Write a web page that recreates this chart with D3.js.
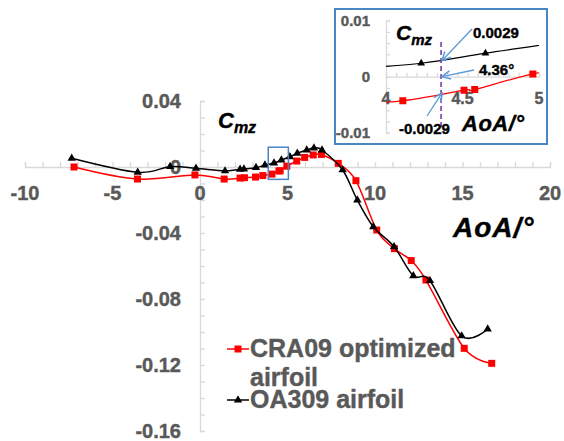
<!DOCTYPE html>
<html>
<head>
<meta charset="utf-8">
<script src="https://cdn.jsdelivr.net/npm/d3@7"></script>
<style>
  body { margin: 0; background: #fff; }
</style>
</head>
<body>
<script>
// CRA09 optimized airfoil (red squares)
var redAoA = [-7.2, -3.57, -0.29, 1.38, 2.29, 2.54, 3.17, 3.59, 4.11, 4.51, 4.58, 4.96,
    5.53, 5.98, 6.47, 6.94, 7.9, 8.91, 10.1, 11.11, 12.07, 12.91, 15.1, 16.67];
var redCmz = [0.0, -0.0073, -0.0048, -0.0073, -0.0067, -0.0065, -0.0061, -0.0052, -0.0043, -0.0024, -0.0023, 0.0005,
    0.0036, 0.0058, 0.0073, 0.0076, 0.0022, -0.0083, -0.0382, -0.0495, -0.0567, -0.0685, -0.1099, -0.119];

// OA309 airfoil (black triangles)
var blackAoA = [-7.33, -3.56, -1.71, -0.23, 1.43, 2.29, 2.51, 3.2, 3.71, 4.23, 4.65, 5.14,
    5.56, 6.1, 6.51, 6.97, 8.15, 8.99, 9.9, 11.09, 12.19, 13.14, 14.95, 16.44];
var blackCmz = [0.0053, -0.0032, 0.0002, -0.0008, -0.0024, -0.0014, -0.0012, -0.0004, 0.0012, 0.0024, 0.0042, 0.0062,
    0.0083, 0.0103, 0.0115, 0.0103, -0.0018, -0.02, -0.0362, -0.0483, -0.0659, -0.0689, -0.1024, -0.0982];

var xTicks = [-10, -5, 0, 5, 10, 15, 20];
var yTicks = [0.04, 0, -0.04, -0.08, -0.12, -0.16];
var insetXTicks = [4, 4.5, 5];
var insetYTicks = [0.01, 0, -0.01];
var seriesNames = ["CRA09 optimized", "airfoil", "OA309 airfoil"];
var markAoA = 4.36, markCmz = 0.0029;

var gray = "#595959";

var svg = d3.select("body").append("svg")
    .attr("width", 564)
    .attr("height", 441)
    .attr("font-family", "'Liberation Sans', Arial, sans-serif")
    .attr("font-weight", "700");

var defs = svg.append("defs");
defs.append("marker")
    .attr("id", "arrow")
    .attr("viewBox", "0 0 10 10")
    .attr("refX", 9).attr("refY", 5)
    .attr("markerWidth", 8).attr("markerHeight", 8)
    .attr("orient", "auto")
  .append("path")
    .attr("d", "M1,1 L9,5 L1,9")
    .attr("fill", "none")
    .attr("stroke", "#5B9BD5")
    .attr("stroke-width", 1.5);

// main scales
var x = d3.scaleLinear().domain([-10, 20]).range([25, 550]);
var y = d3.scaleLinear().domain([-0.16, 0.04]).range([431, 101]);

var red = redAoA.map(function(d, i){ return [d, redCmz[i]]; });
var black = blackAoA.map(function(d, i){ return [d, blackCmz[i]]; });

// x axis ticks (pointing up) and y axis ticks (pointing right)
svg.append("g")
    .attr("transform", "translate(0," + y(0) + ")")
    .call(d3.axisTop(x).tickValues(d3.range(-10, 21, 1)).tickSize(5).tickFormat(""))
    .call(function(g){ g.selectAll("line,path").attr("stroke", "#D9D9D9").attr("stroke-width", 1.3); });

svg.append("g")
    .attr("transform", "translate(" + x(0) + ",0)")
    .call(d3.axisRight(y).tickValues(d3.range(-16, 5, 1).map(function(d){ return d / 100; })).tickSize(5).tickFormat(""))
    .call(function(g){ g.selectAll("line,path").attr("stroke", "#D9D9D9").attr("stroke-width", 1.3); });

// bold labels, with a thin outline of the same colour for weight
function boldText(sel, color){
    return sel.attr("fill", color)
        .attr("font-weight", "700")
        .attr("stroke", color)
        .attr("stroke-width", 0.4);
}

// tick labels
svg.selectAll(".xlab").data(xTicks).enter().append("text")
    .attr("class", "xlab")
    .attr("x", function(d){ return x(d); })
    .attr("y", y(0) + 33)
    .attr("text-anchor", "middle")
    .attr("font-size", "20px")
    .call(boldText, gray)
    .text(function(d){ return d; });

svg.selectAll(".ylab").data(yTicks).enter().append("text")
    .attr("class", "ylab")
    .attr("x", x(0) - 19)
    .attr("y", function(d){ return y(d) + 7; })
    .attr("text-anchor", "end")
    .attr("font-size", "20px")
    .call(boldText, gray)
    .text(function(d){ return d === 0 ? "0" : d.toFixed(2); });

// axis titles
function cmzLabel(g, px, py, big, small){
    var t = g.append("text")
        .attr("x", px).attr("y", py)
        .attr("font-style", "italic")
        .call(boldText, "#000");
    t.append("tspan").attr("font-size", big + "px").text("C");
    t.append("tspan").attr("font-size", small + "px").attr("dy", 5).text("mz");
}
cmzLabel(svg, 218, 128, 22, 16);

svg.append("text")
    .attr("x", 453).attr("y", 237)
    .attr("font-size", "28px")
    .attr("font-style", "italic")
    .attr("letter-spacing", "1px")
    .call(boldText, "#000")
    .text("AoA/°");

var sq = d3.symbol().type(d3.symbolSquare).size(49);
var tri = d3.symbol().type(d3.symbolTriangle).size(30);

function drawSeries(g, data, sx, sy, color, sym, lw){
    var ln = d3.line()
        .x(function(d){ return sx(d[0]); })
        .y(function(d){ return sy(d[1]); })
        .curve(d3.curveCardinal.tension(0));
    g.append("path")
        .datum(data)
        .attr("d", ln)
        .attr("fill", "none")
        .attr("stroke", color)
        .attr("stroke-width", lw);
    g.selectAll(null).data(data).enter().append("path")
        .attr("d", sym)
        .attr("transform", function(d){ return "translate(" + sx(d[0]) + "," + sy(d[1]) + ")"; })
        .attr("fill", color);
}

drawSeries(svg, red, x, y, "#FF0000", sq, 1.5);
drawSeries(svg, black, x, y, "#000", tri, 1.5);

// zoom box on main chart
svg.append("rect")
    .attr("x", x(3.9))
    .attr("y", y(0.012))
    .attr("width", x(5.05) - x(3.9))
    .attr("height", y(-0.0075) - y(0.012))
    .attr("fill", "none")
    .attr("stroke", "#4A86C5")
    .attr("stroke-width", 1.5);

// legend
var leg = svg.append("g");
leg.append("line").attr("x1", 227).attr("x2", 249).attr("y1", 349).attr("y2", 349)
    .attr("stroke", "#FF0000").attr("stroke-width", 1.5);
leg.append("path").attr("d", sq).attr("transform", "translate(238,349)").attr("fill", "#FF0000");
leg.append("line").attr("x1", 227).attr("x2", 249).attr("y1", 400).attr("y2", 400)
    .attr("stroke", "#000").attr("stroke-width", 1.5);
leg.append("path").attr("d", tri).attr("transform", "translate(238,400)").attr("fill", "#000");
leg.selectAll("text").data(seriesNames).enter().append("text")
    .attr("x", 250)
    .attr("y", function(d, i){ return [357, 386, 408][i]; })
    .attr("font-size", "25px")
    .call(boldText, gray)
    .text(function(d){ return d; });

// ---- inset ----
var ix = d3.scaleLinear().domain([4, 5]).range([386, 539]);
var iy = d3.scaleLinear().domain([-0.01, 0.01]).range([132.7, 20.7]);

var inset = svg.append("g");
inset.append("rect")
    .attr("x", 335).attr("y", 9)
    .attr("width", 212).attr("height", 135)
    .attr("fill", "#fff")
    .attr("stroke", "#4A86C5")
    .attr("stroke-width", 2);

defs.append("clipPath").attr("id", "iclip")
  .append("rect")
    .attr("x", ix(4)).attr("y", iy(0.01))
    .attr("width", ix(5) - ix(4)).attr("height", iy(-0.01) - iy(0.01));

inset.append("g")
    .attr("transform", "translate(0," + iy(0) + ")")
    .call(d3.axisTop(ix).tickValues(d3.range(0, 16).map(function(d){ return 4 + d / 15; })).tickSize(4).tickFormat(""))
    .call(function(g){ g.selectAll("line,path").attr("stroke", "#D9D9D9").attr("stroke-width", 1.3); });

inset.append("g")
    .attr("transform", "translate(" + ix(4) + ",0)")
    .call(d3.axisRight(iy).tickValues(d3.range(-5, 6).map(function(d){ return d / 500; })).tickSize(4).tickFormat(""))
    .call(function(g){ g.selectAll("line,path").attr("stroke", "#D9D9D9").attr("stroke-width", 1.3); });

inset.selectAll(".ixlab").data(insetXTicks).enter().append("text")
    .attr("x", function(d){ return ix(d); })
    .attr("y", 104)
    .attr("text-anchor", "middle")
    .attr("font-size", "16px")
    .call(boldText, gray)
    .text(function(d){ return d; });

inset.selectAll(".iylab").data(insetYTicks).enter().append("text")
    .attr("x", 370)
    .attr("y", function(d){ return iy(d) + 5; })
    .attr("text-anchor", "end")
    .attr("font-size", "15px")
    .call(boldText, gray)
    .text(function(d){ return d === 0 ? "0" : d.toFixed(2); });

var plot = inset.append("g").attr("clip-path", "url(#iclip)");
drawSeries(plot, red, ix, iy, "#FF0000", sq, 1.2);
drawSeries(plot, black, ix, iy, "#000", d3.symbol().type(d3.symbolTriangle).size(26), 1.2);

// vertical dashed mark at 4.36
inset.append("line")
    .attr("x1", ix(markAoA)).attr("x2", ix(markAoA))
    .attr("y1", iy(0.0062)).attr("y2", iy(-0.0095))
    .attr("stroke", "#7030A0")
    .attr("stroke-width", 1.5)
    .attr("stroke-dasharray", "5,3");

cmzLabel(inset, 396, 40, 21, 15);

inset.append("text")
    .attr("x", 462).attr("y", 131)
    .attr("font-size", "22px")
    .attr("font-style", "italic")
    .attr("letter-spacing", "0.5px")
    .call(boldText, "#000")
    .text("AoA/°");

// annotations
var notes = [
    { label: markCmz.toFixed(4), tx: 473, ty: 38, ax: 472, ay: 29, px: markAoA, py: markCmz },
    { label: markAoA + "°", tx: 479, ty: 75, ax: 474, ay: 70, px: markAoA, py: 0 },
    { label: (-markCmz).toFixed(4), tx: 399, ty: 134, ax: 427, ay: 116, px: markAoA, py: -markCmz }
];
inset.selectAll(".arrow").data(notes).enter().append("line")
    .attr("x1", function(d){ return d.ax; })
    .attr("y1", function(d){ return d.ay; })
    .attr("x2", function(d){ return ix(d.px) + 1; })
    .attr("y2", function(d){ return iy(d.py); })
    .attr("stroke", "#5B9BD5")
    .attr("stroke-width", 1.3)
    .attr("marker-end", "url(#arrow)");
inset.selectAll(".note").data(notes).enter().append("text")
    .attr("x", function(d){ return d.tx; })
    .attr("y", function(d){ return d.ty; })
    .attr("font-size", "15px")
    .call(boldText, "#000")
    .text(function(d){ return d.label; });
</script>
</body>
</html>
